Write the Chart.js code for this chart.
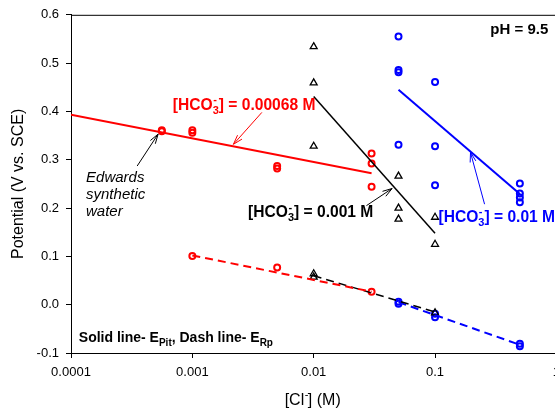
<!DOCTYPE html>
<html>
<head>
<meta charset="utf-8">
<script src="https://cdn.jsdelivr.net/npm/chart.js@4.4.1/dist/chart.umd.min.js"></script>
<style>
  body { margin: 0; background: #fff; }
  #wrap { width: 555px; height: 409px; overflow: hidden; }
</style>
</head>
<body>
<div id="wrap"><canvas id="chart" width="567" height="409" style="width:567px;height:409px"></canvas></div>
<script>
// axis ticks
const xTicks = [0.0001, 0.001, 0.01, 0.1, 1];
const xTickLabels = ["0.0001", "0.001", "0.01", "0.1", "1"];
const yTicks = [-0.1, 0.0, 0.1, 0.2, 0.3, 0.4, 0.5, 0.6];

// [HCO3-] = 0.00068 M (red)
const redPitCl = [0.00056, 0.00056, 0.001, 0.001, 0.005, 0.005, 0.03, 0.03, 0.03];
const redPitE = [0.359, 0.361, 0.361, 0.356, 0.287, 0.282, 0.313, 0.292, 0.244];
const redRpCl = [0.001, 0.005, 0.03];
const redRpE = [0.101, 0.077, 0.027];
const redPitFitCl = [0.0001, 0.03];
const redPitFitE = [0.393, 0.272];
const redRpFitCl = [0.001, 0.03];
const redRpFitE = [0.102, 0.027];

// [HCO3-] = 0.001 M (black)
const blackPitCl = [0.01, 0.01, 0.01, 0.05, 0.05, 0.05, 0.1, 0.1];
const blackPitE = [0.534, 0.459, 0.328, 0.266, 0.200, 0.177, 0.181, 0.125];
const blackRpCl = [0.01, 0.01, 0.1];
const blackRpE = [0.064, 0.057, -0.017];
const blackPitFitCl = [0.01, 0.1];
const blackPitFitE = [0.431, 0.148];
const blackRpFitCl = [0.01, 0.1];
const blackRpFitE = [0.060, -0.015];

// [HCO3-] = 0.01 M (blue)
const bluePitCl = [0.05, 0.05, 0.05, 0.05, 0.1, 0.1, 0.1, 0.5, 0.5, 0.5, 0.5];
const bluePitE = [0.555, 0.486, 0.481, 0.331, 0.461, 0.328, 0.247, 0.251, 0.230, 0.222, 0.212];
const blueRpCl = [0.05, 0.05, 0.1, 0.1, 0.5, 0.5];
const blueRpE = [0.006, 0.002, -0.019, -0.026, -0.081, -0.086];
const bluePitFitCl = [0.05, 0.5];
const bluePitFitE = [0.445, 0.229];
const blueRpFitCl = [0.05, 0.5];
const blueRpFitE = [0.005, -0.083];

const FONT = '"Liberation Sans", Arial, sans-serif';
Chart.defaults.font.family = FONT;
Chart.defaults.color = "#000";

const pts = (xs, ys) => xs.map((x, i) => ({ x: x, y: ys[i] }));

function markers(xs, ys, color, style) {
  const tri = style === "triangle";
  return {
    data: pts(xs, ys),
    showLine: false,
    pointStyle: style,
    pointRadius: tri ? 4 : 3,
    borderColor: color,
    backgroundColor: "rgba(255,255,255,0)",
    pointBorderWidth: tri ? 1.3 : 2,
  };
}

function fitLine(xs, ys, color, dashed) {
  return {
    data: pts(xs, ys),
    showLine: true,
    pointRadius: 0,
    borderColor: color,
    borderWidth: color === "#000000" ? 1.5 : 2,
    borderDash: dashed ? [8, 5] : [],
  };
}

// draws text with stacked sub/superscripts: nested arrays are [sub, sup]
function drawRich(ctx, parts, x, y, size, font, color, align) {
  const big = font + " " + size + "px " + FONT;
  const smallSize = Math.round(size * 0.68);
  const small = font + " " + smallSize + "px " + FONT;
  let total = 0;
  const widths = parts.map((p) => {
    let w;
    if (Array.isArray(p)) {
      ctx.font = small;
      w = Math.max(ctx.measureText(p[0]).width, ctx.measureText(p[1]).width);
    } else {
      ctx.font = big;
      w = ctx.measureText(p).width;
    }
    total += w;
    return w;
  });
  let cx = align === "right" ? x - total : align === "center" ? x - total / 2 : x;
  const base = y + size * 0.36;
  ctx.fillStyle = color;
  ctx.textBaseline = "alphabetic";
  ctx.textAlign = "left";
  parts.forEach((p, i) => {
    if (Array.isArray(p)) {
      ctx.font = small;
      if (p[0]) ctx.fillText(p[0], cx, base + size * 0.28);
      if (p[1]) ctx.fillText(p[1], cx + 0.5, base - size * 0.42);
    } else {
      ctx.font = big;
      ctx.fillText(p, cx, base);
    }
    cx += widths[i];
  });
}

function drawArrow(ctx, x1, y1, x2, y2, color) {
  const a = Math.atan2(y2 - y1, x2 - x1);
  const len = 10, spread = 0.3;
  ctx.strokeStyle = color;
  ctx.lineWidth = 1;
  ctx.beginPath();
  ctx.moveTo(x1, y1);
  ctx.lineTo(x2, y2);
  ctx.moveTo(x2 - len * Math.cos(a - spread), y2 - len * Math.sin(a - spread));
  ctx.lineTo(x2, y2);
  ctx.lineTo(x2 - len * Math.cos(a + spread), y2 - len * Math.sin(a + spread));
  ctx.stroke();
}

// label and arrow placement in data units
const labels = [
  { parts: ["[HCO", ["3", "-"], "] = 0.00068 M"], x: 0.00069, y: 0.415, size: 15.6, font: "bold", color: "#ff0000" },
  { parts: ["[HCO", ["3", "-"], "] = 0.001 M"], x: 0.00288, y: 0.193, size: 15.6, font: "bold", color: "#000000" },
  { parts: ["[HCO", ["3", "-"], "] = 0.01 M"], x: 0.1067, y: 0.183, size: 15.6, font: "bold", color: "#0000ff" },
  { parts: ["pH = 9.5"], x: 0.857, y: 0.572, size: 15, font: "bold", color: "#000000", align: "right" },
  { parts: ["Solid line- E", ["Pit", ""], ", Dash line- E", ["Rp", ""]], x: 0.000116, y: -0.066, size: 14, font: "bold", color: "#000000" },
  { parts: ["Edwards"], x: 0.000133, y: 0.265, size: 15, font: "italic", color: "#000000" },
  { parts: ["synthetic"], x: 0.000133, y: 0.230, size: 15, font: "italic", color: "#000000" },
  { parts: ["water"], x: 0.000133, y: 0.195, size: 15, font: "italic", color: "#000000" },
];
const arrows = [
  { from: [0.00374, 0.398], to: [0.00218, 0.332], color: "#ff0000" },
  { from: [0.000351, 0.287], to: [0.000522, 0.353], color: "#000000" },
  { from: [0.0272, 0.205], to: [0.0443, 0.2405], color: "#000000" },
  { from: [0.256, 0.208], to: [0.196, 0.315], color: "#0000ff" },
];

const annotate = {
  id: "annotate",
  afterDraw(chart) {
    const { ctx, chartArea, scales } = chart;
    const sx = scales.x, sy = scales.y;
    ctx.save();
    // frame top and right
    ctx.strokeStyle = "#000";
    ctx.lineWidth = 1;
    ctx.beginPath();
    ctx.moveTo(chartArea.left, chartArea.top + 0.5);
    ctx.lineTo(chartArea.right, chartArea.top + 0.5);
    ctx.lineTo(chartArea.right, chartArea.bottom);
    ctx.stroke();
    arrows.forEach((a) => {
      drawArrow(ctx,
        sx.getPixelForValue(a.from[0]), sy.getPixelForValue(a.from[1]),
        sx.getPixelForValue(a.to[0]), sy.getPixelForValue(a.to[1]), a.color);
    });
    labels.forEach((l) => {
      drawRich(ctx, l.parts, sx.getPixelForValue(l.x), sy.getPixelForValue(l.y),
        l.size, l.font, l.color, l.align || "left");
    });
    // x axis title
    drawRich(ctx, ["[Cl", ["", "-"], "] (M)"], (chartArea.left + chartArea.right) / 2 - 1,
      399, 16, "normal", "#000", "center");
    ctx.restore();
  },
};

new Chart(document.getElementById("chart"), {
  type: "scatter",
  data: {
    datasets: [
      fitLine(redPitFitCl, redPitFitE, "#ff0000", false),
      fitLine(blackPitFitCl, blackPitFitE, "#000000", false),
      fitLine(bluePitFitCl, bluePitFitE, "#0000ff", false),
      fitLine(redRpFitCl, redRpFitE, "#ff0000", true),
      fitLine(blackRpFitCl, blackRpFitE, "#000000", true),
      fitLine(blueRpFitCl, blueRpFitE, "#0000ff", true),
      markers(redPitCl, redPitE, "#ff0000", "circle"),
      markers(redRpCl, redRpE, "#ff0000", "circle"),
      markers(blackPitCl, blackPitE, "#000000", "triangle"),
      markers(blackRpCl, blackRpE, "#000000", "triangle"),
      markers(bluePitCl, bluePitE, "#0000ff", "circle"),
      markers(blueRpCl, blueRpE, "#0000ff", "circle"),
    ],
  },
  plugins: [annotate],
  options: {
    responsive: false,
    animation: false,
    events: [],
    layout: { padding: { top: 13, right: 6, left: 0, bottom: 0 } },
    plugins: {
      legend: { display: false },
      tooltip: { enabled: false },
    },
    scales: {
      x: {
        type: "logarithmic",
        min: 0.0001,
        max: 1,
        afterBuildTicks: (scale) => {
          scale.ticks = xTicks.map((v) => ({ value: v }));
        },
        afterFit: (scale) => {
          scale.height = 56;
        },
        ticks: {
          autoSkip: false,
          maxRotation: 0,
          padding: 7,
          font: { size: 13 },
          color: "#000",
          callback: (v) => xTickLabels[xTicks.indexOf(v)],
        },
        grid: { drawOnChartArea: false, tickLength: 5, color: "#000" },
        border: { display: true, color: "#000", width: 1 },
      },
      y: {
        min: -0.1,
        max: 0.6,
        afterBuildTicks: (scale) => {
          scale.ticks = yTicks.map((v) => ({ value: v }));
        },
        afterFit: (scale) => {
          scale.width = 71;
        },
        ticks: {
          padding: 7,
          font: { size: 13 },
          color: "#000",
          callback: (v) => v.toFixed(1),
        },
        grid: { drawOnChartArea: false, tickLength: 5, color: "#000" },
        border: { display: true, color: "#000", width: 1 },
        title: {
          display: true,
          text: "Potential (V vs. SCE)",
          font: { size: 16 },
          color: "#000",
          padding: { top: 9, bottom: 0 },
        },
      },
    },
  },
});
</script>
</body>
</html>
